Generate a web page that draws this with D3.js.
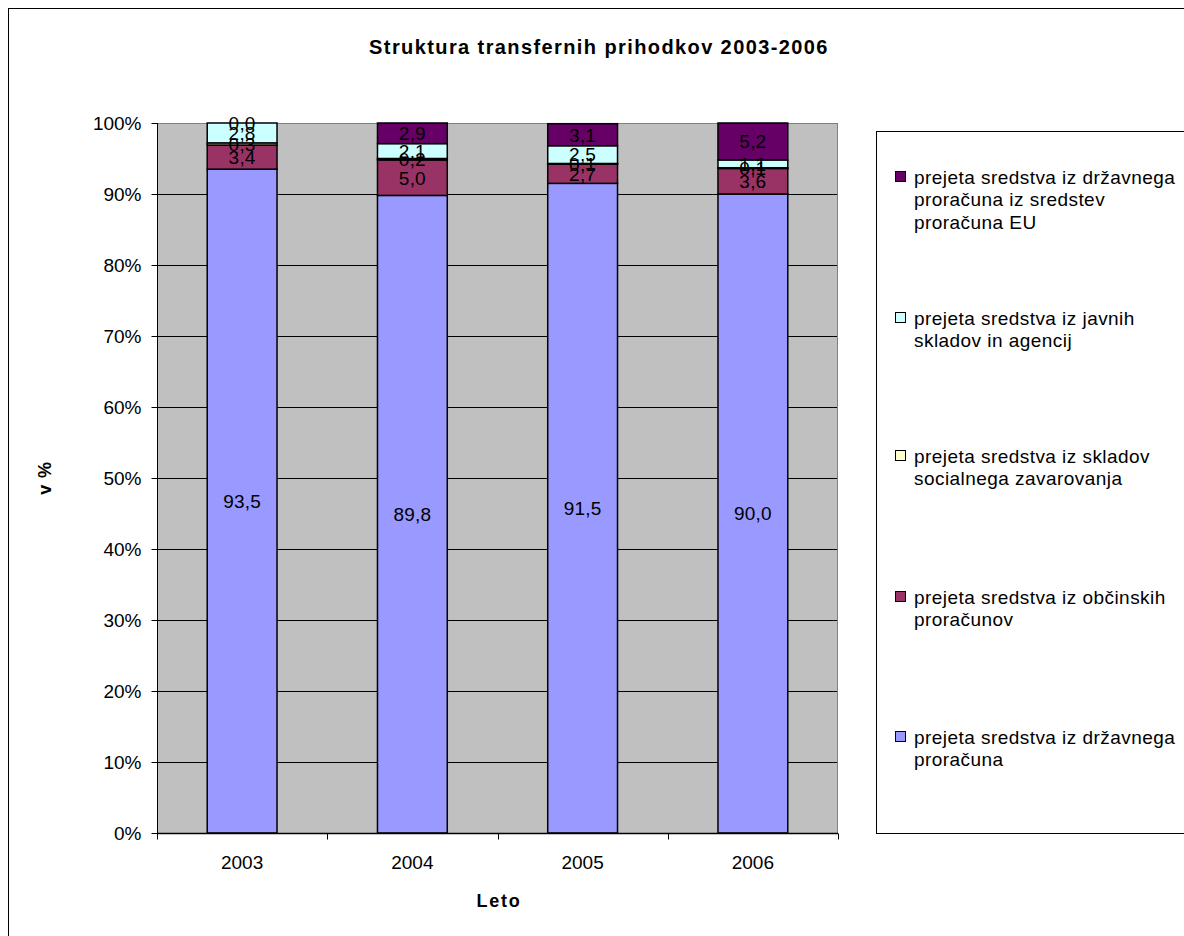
<!DOCTYPE html>
<html>
<head>
<meta charset="utf-8">
<script src="https://cdn.jsdelivr.net/npm/d3@7"></script>
<style>
  html, body { margin: 0; padding: 0; background: #fff; }
  svg { display: block; font-family: "Liberation Sans", Arial, sans-serif; }
</style>
</head>
<body>
<svg id="chart" width="1184" height="936"></svg>
<script>
// Years on the x axis
const years = ["2003", "2004", "2005", "2006"];

// Shares of transfer revenue (v %), bottom to top of each stack
const drzavniProracun = [93.5, 89.8, 91.5, 90.0];
const obcinskiProracuni = [3.4, 5.0, 2.7, 3.6];
const skladiSocialnega = [0.3, 0.2, 0.1, 0.1];
const javniSkladi = [2.8, 2.1, 2.5, 1.1];
const sredstvaEU = [0.0, 2.9, 3.1, 5.2];

const yTicks = [0, 10, 20, 30, 40, 50, 60, 70, 80, 90, 100];

const seriesDefs = [
  { key: "drz", values: drzavniProracun, color: "#9999FF",
    label: ["prejeta sredstva iz državnega", "proračuna"] },
  { key: "obc", values: obcinskiProracuni, color: "#993366",
    label: ["prejeta sredstva iz občinskih", "proračunov"] },
  { key: "soc", values: skladiSocialnega, color: "#FFFFCC",
    label: ["prejeta sredstva iz skladov", "socialnega zavarovanja"] },
  { key: "jav", values: javniSkladi, color: "#CCFFFF",
    label: ["prejeta sredstva iz javnih", "skladov in agencij"] },
  { key: "eu", values: sredstvaEU, color: "#660066",
    label: ["prejeta sredstva iz državnega", "proračuna iz sredstev", "proračuna EU"] }
];

const rows = years.map((y, i) => {
  const r = { year: y };
  seriesDefs.forEach(s => { r[s.key] = s.values[i]; });
  return r;
});

const svg = d3.select("#chart");
const FONT = "'Liberation Sans', Arial, sans-serif";

// outer chart frame
svg.append("rect")
  .attr("x", 8.5).attr("y", 8.5)
  .attr("width", 1200).attr("height", 1000)
  .attr("fill", "none").attr("stroke", "#000").attr("stroke-width", 1);

const plot = { left: 157, top: 123, right: 838, bottom: 833 };

const x = d3.scaleBand().domain(years).range([plot.left, plot.right]).paddingInner(0.59).paddingOuter(0.295);
const y = d3.scaleLinear().domain([0, 100]).range([plot.bottom, plot.top]);

// plot background
svg.append("rect")
  .attr("x", plot.left).attr("y", plot.top)
  .attr("width", plot.right - plot.left).attr("height", plot.bottom - plot.top)
  .attr("fill", "#C0C0C0");

// gridlines
svg.append("g")
  .selectAll("line")
  .data(yTicks.filter(t => t > 0))
  .join("line")
  .attr("x1", plot.left).attr("x2", plot.right)
  .attr("y1", d => Math.round(y(d)) + 0.5).attr("y2", d => Math.round(y(d)) + 0.5)
  .attr("stroke", "#000").attr("stroke-width", 1);

// plot border shade
svg.append("line")
  .attr("x1", plot.right - 0.5).attr("x2", plot.right - 0.5)
  .attr("y1", plot.top).attr("y2", plot.bottom)
  .attr("stroke", "#808080");
svg.append("line")
  .attr("x1", plot.left).attr("x2", plot.right)
  .attr("y1", plot.top + 0.5).attr("y2", plot.top + 0.5)
  .attr("stroke", "#808080");

// stacked bars
const stack = d3.stack().keys(seriesDefs.map(s => s.key));
const stacked = stack(rows);

const layers = svg.append("g").selectAll("g")
  .data(stacked)
  .join("g")
  .attr("fill", (d, i) => seriesDefs[i].color);

layers.selectAll("rect")
  .data(d => d)
  .join("rect")
  .attr("x", d => x(d.data.year))
  .attr("width", x.bandwidth())
  .attr("y", d => y(Math.min(100, d[1])))
  .attr("height", d => Math.max(0, y(d[0]) - y(Math.min(100, d[1]))))
  .attr("stroke", "#000").attr("stroke-width", 1.5);

// value labels centred in each segment
const fmt = v => d3.format(".1f")(v).replace(".", ",");
const labelG = svg.append("g")
  .attr("font-size", 19).attr("letter-spacing", 0.2).attr("fill", "#000").attr("text-anchor", "middle");
stacked.forEach((layer, li) => {
  layer.forEach(d => {
    labelG.append("text")
      .attr("x", x(d.data.year) + x.bandwidth() / 2)
      .attr("y", y((d[0] + Math.min(100, d[1])) / 2))
      .attr("dy", "0.36em")
      .text(fmt(seriesDefs[li].values[years.indexOf(d.data.year)]));
  });
});

// y axis
const yAxis = d3.axisLeft(y).tickValues(yTicks).tickFormat(d => d + "%").tickSize(6).tickPadding(10);
const yg = svg.append("g").attr("transform", `translate(${plot.left + 0.5},0)`).call(yAxis);
yg.select(".domain").attr("stroke", "#000").attr("d", `M0,${plot.top}V${plot.bottom}`);
yg.selectAll(".tick line").attr("stroke", "#000");
yg.selectAll(".tick text").attr("font-size", 19).attr("fill", "#000")
  .attr("font-family", FONT);

// x axis with ticks at category boundaries
const xg = svg.append("g").attr("transform", `translate(0,${plot.bottom + 0.5})`);
xg.append("line").attr("x1", plot.left).attr("x2", plot.right).attr("stroke", "#000").attr("stroke-width", 1.5);
const bounds = d3.range(years.length + 1).map(i => plot.left + i * (plot.right - plot.left) / years.length);
xg.selectAll("line.tk").data(bounds).join("line").attr("class", "tk")
  .attr("x1", d => Math.round(d) + 0.5).attr("x2", d => Math.round(d) + 0.5)
  .attr("y1", 0).attr("y2", 6).attr("stroke", "#000");
xg.selectAll("text").data(years).join("text")
  .attr("x", d => x(d) + x.bandwidth() / 2)
  .attr("y", 29)
  .attr("dy", "0.36em")
  .attr("text-anchor", "middle").attr("font-size", 19).attr("fill", "#000")
  .text(d => d);

// title and axis titles
svg.append("text")
  .attr("x", 599).attr("y", 47).attr("dy", "0.36em")
  .attr("text-anchor", "middle").attr("font-size", 20).attr("font-weight", "bold")
  .attr("letter-spacing", 1.4)
  .text("Struktura transfernih prihodkov 2003-2006");

svg.append("text")
  .attr("x", 499).attr("y", 901).attr("dy", "0.36em")
  .attr("text-anchor", "middle").attr("font-size", 18).attr("font-weight", "bold")
  .attr("letter-spacing", 1.8)
  .text("Leto");

svg.append("text")
  .attr("transform", "translate(45,478) rotate(-90)")
  .attr("dy", "0.36em")
  .attr("text-anchor", "middle").attr("font-size", 18).attr("font-weight", "bold")
  .attr("letter-spacing", 0.8)
  .text("v %");

// legend
const legend = svg.append("g");
legend.append("rect")
  .attr("x", 876.5).attr("y", 131.5)
  .attr("width", 400).attr("height", 833 - 131)
  .attr("fill", "#fff").attr("stroke", "#000").attr("stroke-width", 1);

const legendItems = seriesDefs.slice().reverse();
const legendTop = [177, 318, 456, 597, 737];
const lg = legend.selectAll("g.item").data(legendItems).join("g").attr("class", "item")
  .attr("transform", (d, i) => `translate(0,${legendTop[i]})`);
lg.append("rect")
  .attr("x", 895.5).attr("y", -5.5).attr("width", 10).attr("height", 10)
  .attr("fill", d => d.color).attr("stroke", "#000").attr("stroke-width", 1);
lg.each(function (d) {
  const t = d3.select(this).append("text").attr("font-size", 19).attr("letter-spacing", 0.45).attr("fill", "#000");
  d.label.forEach((line, i) => {
    t.append("tspan").attr("x", 914).attr("y", i * 22.5).attr("dy", "0.36em").text(line);
  });
});
</script>
</body>
</html>
